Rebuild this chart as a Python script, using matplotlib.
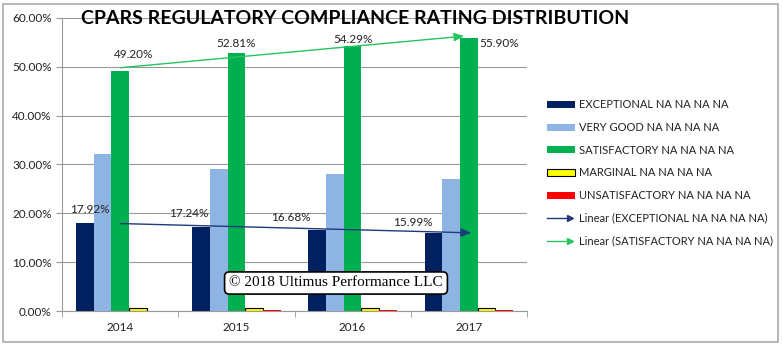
import numpy as np
import matplotlib
matplotlib.use("Agg")
import matplotlib.pyplot as plt
from matplotlib.lines import Line2D
from matplotlib.patches import Patch, Rectangle
from matplotlib.legend_handler import HandlerBase
from matplotlib.ticker import FuncFormatter, FixedLocator

plt.rcParams['font.family'] = ['Lato', 'DejaVu Sans']

years = ['2014', '2015', '2016', '2017']
series_names = ['EXCEPTIONAL NA NA NA NA', 'VERY GOOD NA NA NA NA',
                'SATISFACTORY NA NA NA NA', 'MARGINAL NA NA NA NA',
                'UNSATISFACTORY NA NA NA NA']
exceptional = [17.92, 17.24, 16.68, 15.99]
very_good = [32.2, 29.0, 28.0, 27.1]
satisfactory = [49.20, 52.81, 54.29, 55.90]
marginal = [0.6, 0.7, 0.7, 0.7]
unsatisfactory = [0.0, 0.2, 0.2, 0.2]
yticks = [0, 10, 20, 30, 40, 50, 60]

colors = ['#002060', '#8EB4E3', '#00B050', '#FFFF00', '#FF0000']
edges = [None, None, None, 'black', None]
series = [exceptional, very_good, satisfactory, marginal, unsatisfactory]

fig = plt.figure(figsize=(7.83, 3.47), dpi=100)
ax = fig.add_axes([62/783, 1-311/347, (527-62)/783, (311-18)/347])

x = np.arange(len(years))
bw = 0.152
for i, (vals, c, ec) in enumerate(zip(series, colors, edges)):
    ax.bar(x + (i-2)*bw, vals, bw, color=c,
           edgecolor=ec if ec else c, linewidth=0.8 if ec else 0, zorder=3)

ax.set_xlim(-0.5, 3.5)
ax.set_ylim(0, 60)
ax.set_yticks(yticks)
ax.yaxis.set_major_formatter(FuncFormatter(lambda v, p: f"{v:.2f}%"))
ax.set_xticks(x)
ax.set_xticklabels(years)
ax.xaxis.set_minor_locator(FixedLocator(np.arange(-0.5, 4, 1)))
ax.tick_params(axis='x', which='major', length=0, pad=8, labelsize=8.5, colors='#222222')
ax.tick_params(axis='x', which='minor', length=4, color='#999999')
ax.tick_params(axis='y', length=4, color='#999999', labelsize=8.5, labelcolor='#222222')
ax.grid(axis='y', color='#999999', linewidth=0.8, zorder=0)
ax.set_axisbelow(True)
for s in ['top', 'right']:
    ax.spines[s].set_visible(False)
ax.spines['left'].set_color('#999999')
ax.spines['bottom'].set_color('#999999')
ax.axvline(3.5, color='#dddddd', lw=0.8)

# trendlines
for vals, c, xend in [(exceptional, '#1F3A7A', 3.02), (satisfactory, '#22C55E', 2.96)]:
    k, b = np.polyfit(x, vals, 1)
    y0, y1 = b, k*3 + b
    ax.annotate('', xy=(xend, y1), xytext=(0, y0),
                arrowprops=dict(arrowstyle='-|>,head_length=0.6,head_width=0.25',
                                color=c, lw=1, shrinkA=0, shrinkB=0), zorder=5)

# labels
sat_lbl_pos = [(0.12, 51.5), (0, 53.6), (0, 54.4), (0.26, 53.7)]
for xi, (v, (dx, yy)) in enumerate(zip(satisfactory, sat_lbl_pos)):
    ax.text(xi + dx, yy, f"{v:.2f}%", ha='center', va='bottom', fontsize=8.5, color='#222222', zorder=6)
exc_lbl_pos = [(-0.26, 19.6), (-0.41, 18.8), (-0.53, 18.1), (-0.48, 17.0)]
for xi, (v, (dx, yy)) in enumerate(zip(exceptional, exc_lbl_pos)):
    ax.text(xi + dx, yy, f"{v:.2f}%", ha='center', va='bottom', fontsize=8.5, color='#222222', zorder=6)

# watermark
fig.text(336/783, 1-283/347, "© 2018 Ultimus Performance LLC", ha='center', va='center',
         fontsize=11, family='Liberation Serif', zorder=10,
         bbox=dict(boxstyle='round,pad=0.3,rounding_size=0.3', fc='white', ec='black', lw=1.2))

# title
fig.text(355/783, 1-19/347, "CPARS REGULATORY COMPLIANCE RATING DISTRIBUTION", ha='center', va='center',
         fontsize=14, fontweight='bold', color='black', zorder=10)

# legend
class ArrowHandler(HandlerBase):
    def create_artists(self, legend, orig_handle, xdescent, ydescent, width, height, fontsize, trans):
        c = orig_handle.get_color()
        y = height/2 - ydescent
        l = Line2D([-xdescent, width - xdescent - 4], [y, y], color=c, lw=1, transform=trans)
        m = Line2D([width - xdescent - 4], [y], marker='>', color=c, markersize=5, linestyle='', transform=trans)
        return [l, m]

handles = [Patch(facecolor=c, edgecolor=(ec if ec else c), linewidth=0.8 if ec else 0) for c, ec in zip(colors, edges)]
h1 = Line2D([], [], color='#1F3A7A')
h2 = Line2D([], [], color='#22C55E')
labels = series_names + ['Linear (EXCEPTIONAL NA NA NA NA)', 'Linear (SATISFACTORY NA NA NA NA)']
fig.legend(handles + [h1, h2], labels, loc='upper left', bbox_to_anchor=(543/783, 1-95/347),
           frameon=False, fontsize=8, handlelength=2.5, handleheight=0.6, handletextpad=0.3,
           labelspacing=1.05, labelcolor='#222222', borderaxespad=0,
           handler_map={h1: ArrowHandler(), h2: ArrowHandler()})

fig.patches.append(Rectangle((3/783, 5/347), 775/783, 338/347, transform=fig.transFigure,
                             fill=False, ec='#aaaaaa', lw=1.2))

fig.savefig('out.png', dpi=100)
